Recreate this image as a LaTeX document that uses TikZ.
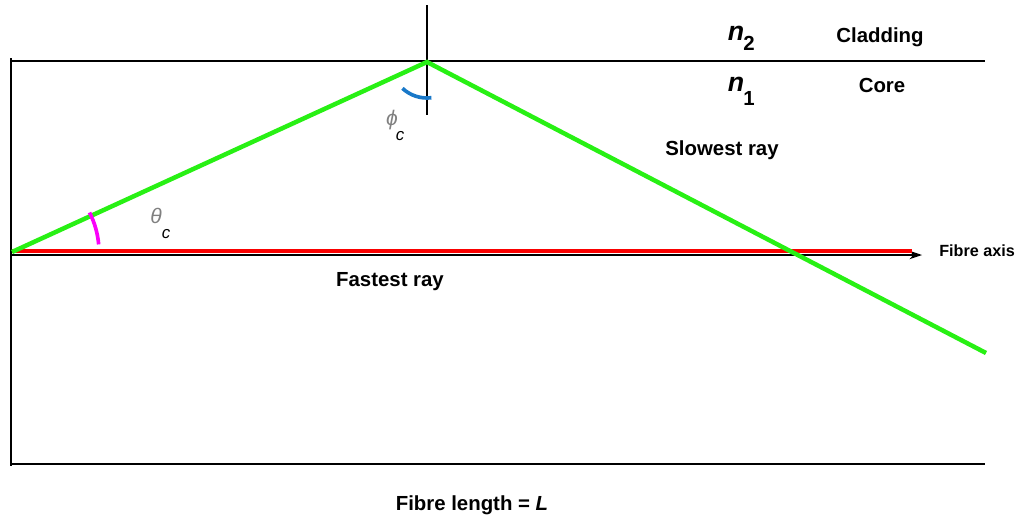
\documentclass[tikz,border=0pt]{standalone}
\usepackage{fontspec}
\setmainfont{Liberation Sans}
\usetikzlibrary{arrows.meta,positioning}
\definecolor{RayGreen}{RGB}{40,240,20}
\definecolor{RayRed}{RGB}{250,0,0}
\definecolor{ArcPink}{RGB}{250,0,250}
\definecolor{ArcBlue}{RGB}{25,120,200}
\tikzset{
  wall/.style={line width=0.9pt,black},
  lbl/.style={font=\fontsize{14.5}{17}\selectfont\bfseries,inner sep=0pt},
  idx/.style={font=\fontsize{19}{21}\selectfont\bfseries\itshape,inner sep=0pt},
  ang/.style={font=\fontsize{12}{14}\selectfont\itshape,inner sep=0pt}
}
\begin{document}
\begin{tikzpicture}[x=0.025cm,y=-0.025cm,>=Latex]
  \useasboundingbox (0,0) rectangle (1025,520);
  % fibre outline
  \coordinate (TL) at (11,61);
  \coordinate (TR) at (985,61);
  \coordinate (BL) at (11,464);
  \coordinate (BR) at (985,464);
  \coordinate (VT) at (427,5);
  \coordinate (VB) at (427,115);
  \draw[wall] (TL)--(TR);
  \draw[wall] (BL)--(BR);
  \draw[wall] (11,58)--(11,466);
  \draw[wall] (VT)--(VB);
  % axis and fastest ray
  \coordinate (O) at (12,252);
  \coordinate (AxEnd) at (922,255);
  \coordinate (RedStart) at (12,251);
  \coordinate (RedEnd) at (912,251);
  \draw[wall,-{Stealth[length=9pt,width=6pt]}] (11,255)--(AxEnd);
  \draw[RayRed,line width=3.2pt] (RedStart)--(RedEnd);
  % slowest ray
  \coordinate (A) at (427,62);
  \coordinate (E) at (986,353);
  \draw[RayGreen,line width=3.2pt,line join=miter] (O)--(A)--(E);
  % angles
  \draw[ArcPink,line width=2.6pt] ([shift={(-27:87)}]O) arc[start angle=-27,end angle=-5,radius=87];
  \draw[ArcBlue,line width=2.6pt] ([shift={(83:36)}]A) arc[start angle=83,end angle=133,radius=36];
  \node[ang,text=gray,font=\fontsize{15}{17}\selectfont\itshape] (phi) at (392,120) {ϕ};
  \node[ang] (phic) at (400,136) {c};
  \node[ang,text=gray,font=\fontsize{15}{17}\selectfont\itshape] (theta) at (156,216) {θ};
  \node[ang] (thetac) at (166,234) {c};
  % labels
  \node[idx] (n2) at (736,33) {n};
  \node[lbl] (n2s) at (749,43) {2};
  \node[idx] (n1) at (736,84) {n};
  \node[lbl] (n1s) at (749,98) {1};
  \node[lbl] (clad) at (880,37) {Cladding};
  \node[lbl] (core) at (882,85) {Core};
  \node[lbl] (slow) at (722,150) {Slowest ray};
  \node[lbl] (fast) at (390,282) {Fastest ray};
  \node[lbl,font=\fontsize{11.5}{13}\selectfont\bfseries,anchor=west] (axis) at (939,251) {Fibre axis};
  \node[lbl] (len) at (472,505) {Fibre length = \textit{L}};
\end{tikzpicture}
\end{document}
